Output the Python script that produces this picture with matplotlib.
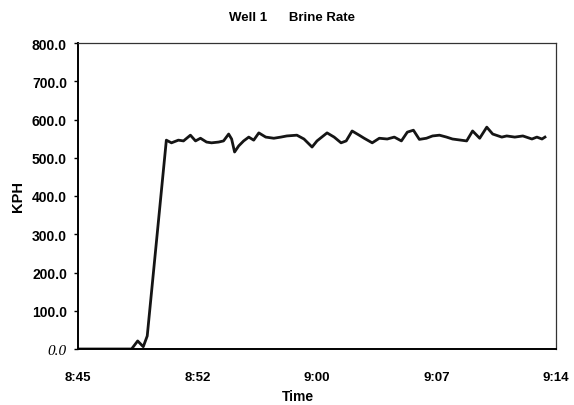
import numpy as np
import matplotlib.pyplot as plt

# minutes after 8:45 and brine rate (KPH)
minutes = [0.0, 3.25, 3.62, 3.96, 4.20, 5.36,
           5.67, 6.09, 6.40, 6.82, 7.13, 7.43, 7.80, 8.10, 8.53, 8.83,
           9.14, 9.32, 9.50, 9.75, 10.05, 10.36, 10.66, 10.97, 11.39, 11.88,
           12.31, 12.67, 13.28, 13.71, 14.20, 14.50, 15.11, 15.54, 15.96, 16.27,
           16.63, 17.06, 17.36, 17.85, 18.28, 18.76, 19.19, 19.62, 19.98, 20.35,
           20.71, 21.14, 21.51, 21.93, 22.36, 22.72, 23.58, 23.94, 24.37, 24.80,
           25.16, 25.71, 26.01, 26.50, 26.99, 27.54, 27.84, 28.15, 28.33]
kph = [0, 0, 21, 6, 34, 546,
       539, 546, 544, 559, 544, 551, 541, 539, 541, 544,
       562, 549, 515, 531, 544, 554, 546, 565, 554, 551,
       554, 557, 559, 549, 528, 544, 565, 554, 539, 544,
       570, 559, 551, 539, 551, 549, 554, 544, 567, 572,
       548, 551, 557, 559, 554, 549, 544, 570, 551, 580,
       562, 554, 557, 554, 557, 549, 554, 549, 554]

xtick_labels = ['8:45', '8:52', '9:00', '9:07', '9:14']
ytick_vals = [0, 100, 200, 300, 400, 500, 600, 700, 800]

plt.rcParams['font.family'] = ['Liberation Sans', 'DejaVu Sans']

fig = plt.figure(figsize=(5.74, 4.06), dpi=100)
ax = fig.add_axes([78/574, 1 - 350/406, (556 - 78)/574, (350 - 44)/406])

ax.plot(minutes, kph, color='#151515', lw=2.0, solid_joinstyle='round')

ax.set_xlim(0, 29)
ax.set_ylim(0, 800)
ax.set_xticks(np.linspace(0, 29, 5))
ax.set_xticklabels(xtick_labels, fontsize=9.5, fontweight='bold')
ax.set_yticks(ytick_vals)
ylabels = ax.set_yticklabels(['%.1f' % v for v in ytick_vals], fontsize=10, fontweight='bold')
# the zero label is in an italic serif face on the original
ylabels[0].set_family('Liberation Serif')
ylabels[0].set_style('italic')
ylabels[0].set_fontweight('normal')
ylabels[0].set_fontsize(11)

ax.tick_params(axis='y', direction='out', length=3, width=1, pad=5)
ax.tick_params(axis='x', direction='out', length=0, pad=16)

for side in ['left', 'bottom']:
    ax.spines[side].set_linewidth(1.4)
    ax.spines[side].set_color('black')
for side in ['top', 'right']:
    ax.spines[side].set_linewidth(0.9)
    ax.spines[side].set_color('#333333')

fig.text(292/574, 1 - 18/406, 'Well 1      Brine Rate', ha='center', va='center',
         fontsize=9.5, fontweight='bold')
fig.text(18/574, 1 - 197/406, 'KPH', rotation=90, ha='center', va='center',
         fontsize=10.5, fontweight='bold')
fig.text(298/574, 1 - 397/406, 'Time', ha='center', va='center',
         fontsize=10, fontweight='bold')

fig.savefig('out.png', dpi=100)
